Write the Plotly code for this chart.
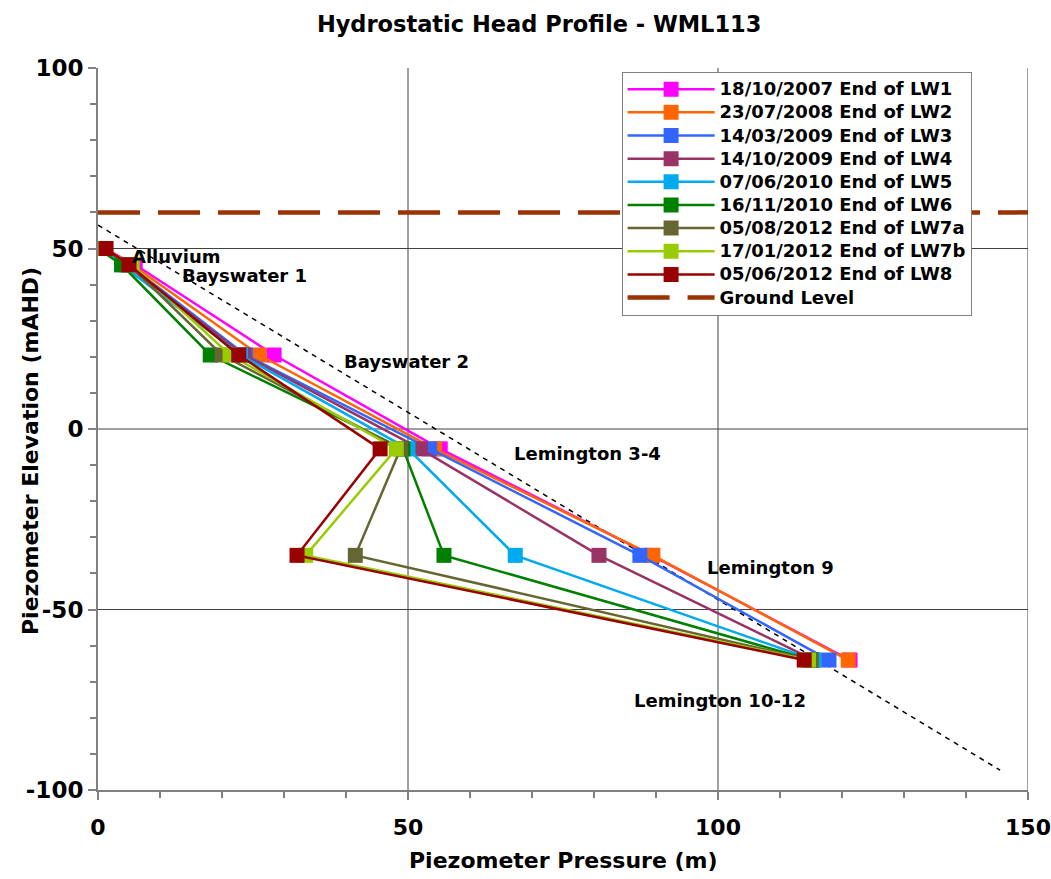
import plotly.graph_objects as go

# Piezometer elevations (mAHD), top to bottom
elevation = [50.0, 45.5, 20.5, -5.5, -35.0, -64.0]

# Piezometric pressure (m) at each elevation, per survey date
lw1 = [1.0, 6.0, 28.4, 55.2, 89.3, 121.3]
lw2 = [1.0, 5.5, 26.0, 54.3, 89.5, 121.0]
lw3 = [1.0, 5.0, 23.8, 53.5, 87.4, 117.9]
lw4 = [1.0, 4.5, 23.5, 52.0, 80.8, 115.5]
lw5 = [0.5, 3.8, 23.0, 50.0, 67.3, 115.5]
lw6 = [0.0, 3.8, 18.1, 49.2, 55.8, 115.0]
lw7a = [1.0, 5.0, 20.0, 48.8, 41.5, 115.0]
lw7b = [1.0, 5.5, 21.3, 48.1, 33.5, 114.6]
lw8 = [1.3, 5.0, 22.7, 45.5, 32.1, 113.9]

series_names = [
    "18/10/2007 End of LW1",
    "23/07/2008 End of LW2",
    "14/03/2009 End of LW3",
    "14/10/2009 End of LW4",
    "07/06/2010 End of LW5",
    "16/11/2010 End of LW6",
    "05/08/2012 End of LW7a",
    "17/01/2012 End of LW7b",
    "05/06/2012 End of LW8",
]
series_values = [lw1, lw2, lw3, lw4, lw5, lw6, lw7a, lw7b, lw8]
series_colors = ["#FF00FF", "#FF6600", "#3366FF", "#993366", "#00AAEE",
                 "#008000", "#666633", "#99CC00", "#990000"]

# Ground level and hydrostatic reference line
ground_x = [0, 150]
ground_y = [60, 60]
hydro_x = [0.0, 145.5]
hydro_y = [56.5, -94.5]

# Formation labels
unit_labels = ["Alluvium", "Bayswater 1", "Bayswater 2", "Lemington 3-4",
               "Lemington 9", "Lemington 10-12"]
unit_x = [12.7, 23.7, 49.8, 79.0, 108.4, 100.3]
unit_y = [47.9, 42.4, 18.6, -6.9, -38.5, -75.1]

# Axis ticks and grid
x_ticks = [0, 50, 100, 150]
y_ticks = [-100, -50, 0, 50, 100]
y_tick_text = ["-100", "-50", "0", "50", "100"]
x_grid = [50, 100, 150]
y_grid = [-50, 0, 50]

FONT = "DejaVu Sans, Verdana, sans-serif"


def legend_label(text):
    return '<span style="font-size:18px">' + text + "</span>"


fig = go.Figure()

fig.add_trace(go.Scatter(
    x=hydro_x, y=hydro_y, mode="lines", showlegend=False,
    line=dict(color="black", width=1.5, dash="5px,5px"), hoverinfo="skip",
))

for name, vals, col in zip(series_names, series_values, series_colors):
    fig.add_trace(go.Scatter(
        x=vals, y=elevation, mode="lines+markers", name=legend_label(name),
        line=dict(color=col, width=2.5),
        marker=dict(symbol="square", size=15, color=col, line=dict(width=0)),
    ))

fig.add_trace(go.Scatter(
    x=ground_x, y=ground_y, mode="lines", name=legend_label("Ground Level"),
    line=dict(color="#993300", width=4.5, dash="42px,18px"),
))

for lab, lx, ly in zip(unit_labels, unit_x, unit_y):
    fig.add_annotation(x=lx, y=ly, text=lab, showarrow=False,
                       font=dict(family=FONT, size=18, color="black", weight="bold"))

# Axis titles
fig.add_annotation(xref="paper", yref="paper", x=0.5, y=-0.097, xanchor="center",
                   yanchor="middle", showarrow=False, text="Piezometer Pressure (m)",
                   font=dict(family=FONT, size=22, color="black", weight="bold"))
fig.add_annotation(xref="paper", yref="paper", x=-0.0731, y=0.4695, xanchor="center",
                   yanchor="middle", showarrow=False, textangle=-90,
                   text="Piezometer Elevation (mAHD)",
                   font=dict(family=FONT, size=22, color="black", weight="bold"))

shapes = []
for gx in x_grid:
    shapes.append(dict(type="line", xref="x", yref="paper", x0=gx, x1=gx, y0=0, y1=1,
                       line=dict(color="#404040", width=1), layer="below"))
for gy in y_grid:
    shapes.append(dict(type="line", xref="paper", yref="y", x0=0, x1=1, y0=gy, y1=gy,
                       line=dict(color="#404040", width=1), layer="below"))

fig.update_layout(
    width=1051, height=879,
    margin=dict(l=98, r=23, t=68, b=89),
    paper_bgcolor="white", plot_bgcolor="white",
    font=dict(family=FONT, color="black"),
    shapes=shapes,
    title=dict(text="Hydrostatic Head Profile - WML113", x=0.513, xanchor="center",
               y=0.972, yanchor="middle",
               font=dict(family=FONT, size=22.5, color="black", weight="bold")),
    legend=dict(x=0.563, y=0.995, xanchor="left", yanchor="top",
                bgcolor="white", bordercolor="#808080", borderwidth=1,
                font=dict(family=FONT, size=15.5, color="black", weight="bold"),
                tracegroupgap=0, itemwidth=87),
    xaxis=dict(
        range=[0, 150], tickvals=x_ticks, showgrid=False, zeroline=False,
        automargin=False,
        showline=True, linecolor="#808080", linewidth=2,
        ticks="outside", ticklen=8, tickcolor="#808080", tickwidth=1.5,
        ticklabelstandoff=9,
        minor=dict(ticks="outside", dtick=10, ticklen=6, tickcolor="#808080", tickwidth=1.5),
        tickfont=dict(family=FONT, size=22, color="black", weight="bold"),
    ),
    yaxis=dict(
        range=[-100, 100], tickvals=y_ticks, ticktext=y_tick_text,
        showgrid=False, zeroline=False, automargin=False,
        showline=True, linecolor="#808080", linewidth=2,
        ticks="outside", ticklen=8, tickcolor="#808080", tickwidth=1.5,
        minor=dict(ticks="outside", dtick=10, ticklen=6, tickcolor="#808080", tickwidth=1.5),
        tickfont=dict(family=FONT, size=23, color="black", weight="bold"),
    ),
)

fig.write_html("out.html")
